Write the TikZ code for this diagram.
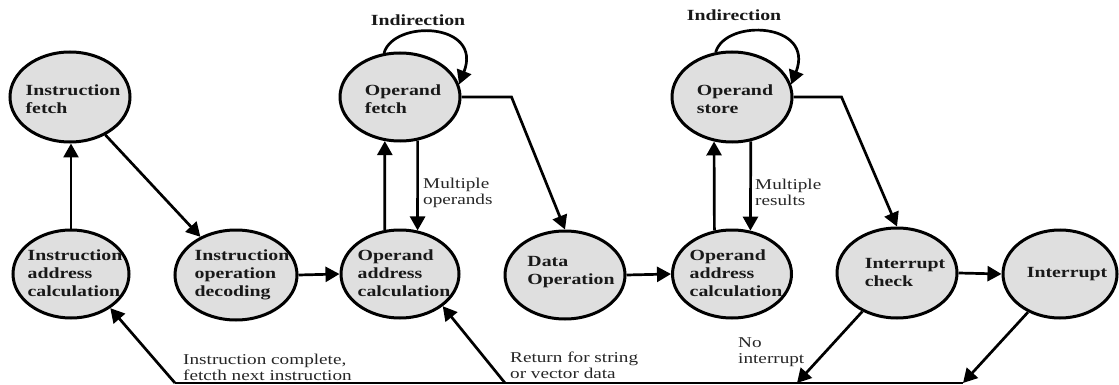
\documentclass[tikz,border=0pt]{standalone}
\usepackage{fontspec}
\setmainfont{Liberation Serif}[FakeStretch=1.28]
\usetikzlibrary{shapes.geometric,arrows.meta,calc}
\begin{document}
\begin{tikzpicture}[x=1pt,y=-1pt,
  st/.style={ellipse,draw,line width=3pt,fill=gray!25,inner sep=0pt},
  lab/.style={font=\fontsize{15.5}{18}\selectfont\bfseries,align=left,inner sep=0pt,text=black!90},
  note/.style={font=\fontsize{15}{16}\selectfont,align=left,inner sep=0pt,anchor=west,text=black!85},
  arr/.style={line width=2.7pt,-{Triangle[length=14pt,width=15pt]}},
  ln/.style={line width=2.4pt}]
\useasboundingbox (0,0) rectangle (1119,385);

% states
\node[st,minimum width=120pt,minimum height=90pt] (IF) at (70,97) {};
\node[st,minimum width=116pt,minimum height=88pt] (IAC) at (71,274) {};
\node[st,minimum width=122pt,minimum height=90pt] (IOD) at (236,275) {};
\node[st,minimum width=120pt,minimum height=88pt] (OF) at (400,97) {};
\node[st,minimum width=118pt,minimum height=88pt] (OAC1) at (400,274) {};
\node[st,minimum width=120pt,minimum height=88pt] (DO) at (565,275) {};
\node[st,minimum width=120pt,minimum height=90pt] (OS) at (732,97) {};
\node[st,minimum width=119pt,minimum height=88pt] (OAC2) at (732,274) {};
\node[st,minimum width=120pt,minimum height=90pt] (IC) at (897,273) {};
\node[st,minimum width=114pt,minimum height=88pt] (INT) at (1060,274) {};

% state texts
\node[lab] (IFt) at ($(IF)+(3,2)$) {Instruction\\fetch};
\node[lab] (IACt) at ($(IAC)+(4,-1)$) {Instruction\\address\\calculation};
\node[lab] (IODt) at ($(IOD)+(6,0)$) {Instruction\\operation\\decoding};
\node[lab] (OFt) at ($(OF)+(3,2)$) {Operand\\fetch};
\node[lab] (OAC1t) at ($(OAC1)+(4,-1)$) {Operand\\address\\calculation};
\node[lab] (DOt) at ($(DO)+(6,-3)$) {Data\\Operation};
\node[lab] (OSt) at ($(OS)+(3,2)$) {Operand\\store};
\node[lab] (OAC2t) at ($(OAC2)+(4,-1)$) {Operand\\address\\calculation};
\node[lab] (ICt) at ($(IC)+(8,-1)$) {Interrupt\\check};
\node[lab] (INTt) at ($(INT)+(7,0)$) {Interrupt};

% labels
\node[lab] (ind1) at (418,20) {Indirection};
\node[lab] (ind2) at (734,15) {Indirection};
\node[note] (mo) at (423,193) {Multiple\\operands};
\node[note] (mr) at (755,192) {Multiple\\results};
\node[note] (icn) at (183,367) {Instruction complete,\\fetcth next instruction};
\node[note] (rs) at (510,365) {Return for string\\or vector data};
\node[note] (ni) at (738,352) {No\\interrupt};

% bottom return line coordinates
\coordinate (bR) at (963,383);
\coordinate (bI) at (797,383);
\coordinate (bO) at (505,383);
\coordinate (bL) at (175,383);

% connectors
\draw[arr] (IAC.north) -- (IAC.north |- IF.south);
\draw[arr] (IF) -- (IOD);
\draw[arr] (IOD.east) -- (OAC1.west);
\draw[arr] (OAC1.109) -- (OF.251);
\draw[arr] (OF.292) -- (OAC1.68);
\draw[arr] (OF.east) -- ++(50,0) -- (DO.north);
\draw[arr] (DO.east) -- (OAC2.west);
\draw[arr] (OAC2.112) -- (OS.248);
\draw[arr] (OS.293) -- (OAC2.67);
\draw[arr] (OS.east) -- ++(48,0) -- (IC.north);
\draw[arr] (IC.east) -- (INT.west);
\draw[arr] (IC.228) -- (bI);
\draw[arr] (INT.230) -- (bR);
\draw[ln] (bR) -- (bL);
\draw[arr] (bL) -- (IAC.-41);
\draw[arr] (bO) -- (OAC1.-37);

% indirection loops
\draw[arr] (OF.110) .. controls +(10,-34) and +(24,-62) .. (OF.12);
\draw[arr] (OS.110) .. controls +(10,-34) and +(24,-62) .. (OS.12);
\end{tikzpicture}
\end{document}
